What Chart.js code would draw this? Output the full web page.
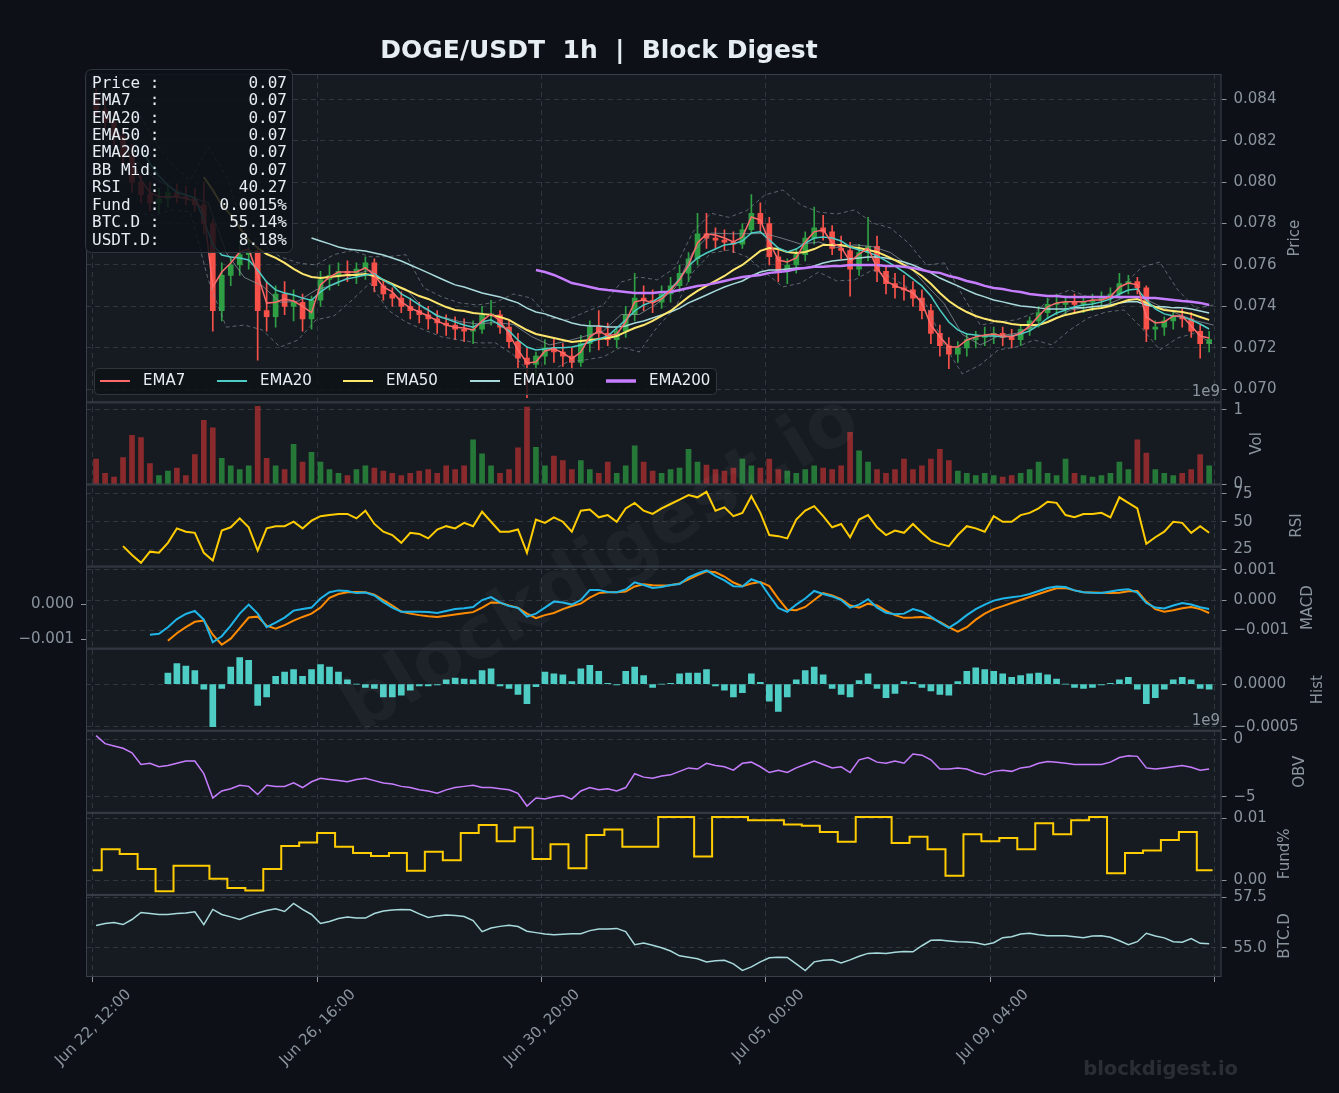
<!DOCTYPE html>
<html>
<head>
<meta charset="utf-8">
<title>DOGE/USDT 1h | Block Digest</title>
<script src="https://cdn.jsdelivr.net/npm/chart.js@4.4.1/dist/chart.umd.min.js"></script>
<style>
  html, body { margin: 0; padding: 0; background: #0d1117; }
</style>
</head>
<body>
<canvas id="chart" width="1339" height="1093"></canvas>
<script>
// ---- data (x = hours since Jun 22 12:00, one candle per 4 hours) ----
const candleOpen = [.0840,.0835,.0829,.0822,.0812,.0800,.0794,.0790,.0792,.0795, .0793,.0792,.0789,.0780,.0738,.0755,.0760,.0765,.0767,.0738,
  .0735,.0746,.0740,.0742,.0734,.0743,.0753,.0755,.0757,.0756, .0758,.0761,.0750,.0746,.0744,.0740,.0738,.0736,.0734,.0732,
  .0731,.0729,.0728,.0729,.0736,.0736,.0730,.0723,.0715,.0712, .0716,.0720,.0718,.0716,.0713,.0722,.0730,.0727,.0724,.0728,
  .0736,.0744,.0743,.0742,.0746,.0750,.0756,.0763,.0775,.0773, .0772,.0771,.0770,.0777,.0785,.0780,.0764,.0757,.0760,.0765,
  .0773,.0778,.0776,.0768,.0767,.0758,.0766,.0769,.0757,.0751, .0749,.0748,.0744,.0738,.0727,.0721,.0717,.0720,.0724,.0725,
  .0726,.0727,.0725,.0724,.0729,.0733,.0737,.0741,.0741,.0742, .0741,.0742,.0743,.0744,.0746,.0751,.0752,.0749,.0729,.0730,
  .0733,.0735,.0734,.0728,.0722];
const candleHigh = [.0845,.0840,.0834,.0826,.0818,.0803,.0800,.0797,.0798,.0799, .0798,.0797,.0800,.0782,.0761,.0764,.0770,.0772,.0769,.0752,
  .0750,.0752,.0748,.0746,.0745,.0757,.0760,.0761,.0762,.0761, .0764,.0763,.0753,.0749,.0747,.0744,.0742,.0740,.0738,.0736,
  .0735,.0734,.0733,.0740,.0743,.0738,.0733,.0727,.0720,.0718, .0724,.0725,.0722,.0720,.0726,.0733,.0738,.0732,.0730,.0740,
  .0756,.0750,.0748,.0750,.0754,.0760,.0766,.0785,.0785,.0778, .0777,.0776,.0780,.0794,.0790,.0783,.0768,.0763,.0768,.0776,
  .0788,.0784,.0779,.0774,.0771,.0770,.0783,.0774,.0760,.0756, .0755,.0752,.0748,.0741,.0731,.0725,.0723,.0727,.0728,.0730,
  .0730,.0730,.0729,.0731,.0735,.0740,.0744,.0746,.0745,.0746, .0745,.0746,.0747,.0749,.0756,.0755,.0754,.0750,.0733,.0735,
  .0738,.0739,.0737,.0731,.0728];
const candleLow = [.0832,.0826,.0818,.0808,.0795,.0790,.0786,.0785,.0788,.0790, .0789,.0786,.0775,.0728,.0733,.0750,.0755,.0758,.0714,.0728,
  .0730,.0736,.0733,.0728,.0729,.0740,.0748,.0750,.0752,.0751, .0753,.0747,.0743,.0740,.0737,.0734,.0732,.0729,.0727,.0726,
  .0724,.0723,.0722,.0727,.0731,.0727,.0720,.0710,.0696,.0707, .0712,.0713,.0711,.0709,.0711,.0718,.0719,.0721,.0720,.0725,
  .0733,.0738,.0737,.0739,.0742,.0747,.0752,.0760,.0768,.0768, .0767,.0766,.0768,.0775,.0776,.0760,.0752,.0751,.0756,.0762,
  .0770,.0772,.0765,.0763,.0745,.0755,.0762,.0752,.0746,.0744, .0743,.0740,.0734,.0722,.0716,.0710,.0713,.0716,.0720,.0721,
  .0722,.0721,.0720,.0721,.0726,.0730,.0734,.0736,.0736,.0737, .0737,.0738,.0739,.0740,.0744,.0746,.0746,.0723,.0724,.0726,
  .0729,.0730,.0725,.0715,.0718];
const candleClose = [.0835,.0829,.0822,.0812,.0800,.0794,.0790,.0792,.0795,.0793, .0792,.0789,.0780,.0738,.0755,.0760,.0765,.0767,.0738,.0735,
  .0746,.0740,.0742,.0734,.0743,.0753,.0755,.0757,.0756,.0758, .0761,.0750,.0746,.0744,.0740,.0738,.0736,.0734,.0732,.0731,
  .0729,.0728,.0729,.0736,.0736,.0730,.0723,.0715,.0712,.0716, .0720,.0718,.0716,.0713,.0722,.0730,.0727,.0724,.0728,.0736,
  .0744,.0743,.0742,.0746,.0750,.0756,.0763,.0775,.0773,.0772, .0771,.0770,.0777,.0785,.0780,.0764,.0757,.0760,.0765,.0773,
  .0778,.0776,.0768,.0767,.0758,.0766,.0769,.0757,.0751,.0749, .0748,.0744,.0738,.0727,.0721,.0717,.0720,.0724,.0725,.0726,
  .0727,.0725,.0724,.0729,.0733,.0737,.0741,.0741,.0742,.0741, .0742,.0743,.0744,.0746,.0751,.0752,.0749,.0729,.0730,.0733,
  .0735,.0734,.0728,.0722,.0724];

const ema7 = [null,.0833,.0827,.0820,.0810,.0801,.0795,.0793,.0793,.0793, .0792,.0791,.0786,.07494,.07566,.0761,.07663,.07677,.07552,.07416,
  .0742,.07436,.07426,.0740,.0737,.07504,.07542,.07566,.07566,.07566, .07586,.07552,.07494,.0747,.07422,.07393,.07373,.07354,.0733,.0731,
  .0730,.07296,.07286,.0733,.07364,.0733,.07267,.0719,.07127,.07132, .07185,.07195,.07176,.07147,.0718,.07253,.07282,.07257,.07267,.07325,
  .07422,.07431,.07417,.07436,.07479,.07528,.0760,.07706,.0775,.07745, .0773,.07711,.07735,.07832,.07817,.07711,.07624,.07615,.07634,.07711,
  .0776,.0777,.07706,.07687,.07615,.07653,.07682,.07586,.07523,.07499, .07484,.07465,.07417,.0731,.07253,.07204,.07204,.07238,.07253,.07262,
  .07267,.07257,.07253,.07272,.07305,.07354,.07398,.07417,.07422,.07422, .07422,.07431,.07431,.07446,.07494,.07513,.07504,.07349,.0732,.07325,
  .07354,.07354,.07305,.07257,.07248];
const ema20 = [null,null,null,null,null,
  .08165,.0809,.0803,.07986,.0795,.07938,.07924,.07817,.07697,.07648, .07639,.07634,.07624,.07576,.07518,.0748,.07465,.07455,.0744,.0743,
  .0747,.07499,.07518,.07533,.07542,.07552,.07557,.07528,.07504,.0746, .07436,.07407,.07383,.07354,.0734,.07325,.0731,.0730,.07325,.07335,
  .0731,.07282,.07238,.07204,.0719,.07195,.0720,.0720,.07204,.07214, .07228,.07243,.07257,.07296,.07335,.07378,.07407,.07423,.0745,.07484,
  .07533,.07595,.07634,.07658,.07677,.07697,.07702,.07716,.07755,.0776, .07721,.07682,.07663,.07677,.07706,.0773,.07735,.0773,.07716,.07687,
  .07672,.07663,.07644,.0762,.07595,.07566,.07533,.07499,.0745,.07383, .07325,.07287,.07267,.07262,.07257,.07257,.07253,.07257,.07267,.07282,
  .0731,.07344,.07368,.07383,.07398,.07407,.07412,.07422,.07436,.0746, .07479,.07484,.0743,.07388,.07364,.07354,.0735,.07335,.07315,.07291];
const ema50 = [null,null,null,null,null,null,null,null,null,null,null,null,
  .08025,.07962,.0789,.07842,.07779,.07721,.07682,.07653,.07634,.0761, .07581,.07557,.07542,.07537,.07542,.07547,.07552,.07552,.07557,.07547,
  .07528,.07509,.07489,.0747,.0745,.07436,.07416,.07397,.07383,.07378, .07368,.07364,.07359,.07349,.07335,.0731,.07286,.07267,.07257,.07248,
  .07238,.07228,.07233,.07238,.07243,.07248,.07257,.07277,.07296,.0731, .0733,.07354,.07378,.07412,.07446,.07475,.07499,.07523,.07547,.07576,
  .0760,.07634,.07668,.07682,.07677,.07663,.07658,.07663,.07677,.07697, .07697,.07697,.07687,.07682,.07672,.07663,.07644,.07624,.0760,.07576,
  .07547,.07509,.07465,.07426,.07397,.07373,.07354,.0734,.0733,.07325, .07315,.0731,.0731,.0731,.07325,.07344,.07359,.07368,.07378,.07388,
  .07392,.07402,.07417,.07431,.07436,.07417,.07397,.07383,.07378,.07373, .07364,.07349,.07335];
const ema100 = [null,null,null,null,null,null,null,null,null,null,null,null,null,null,null,null,null,null,null,null,null,null,null,null,
  .0773,.07716,.07702,.07687,.07677,.07672,.07668,.07658,.07648,.07634, .07619,.0760,.07581,.07562,.07542,.07523,.07504,.07494,.07479,.07465,
  .07455,.07446,.07431,.07417,.07392,.07373,.07364,.07349,.07335,.0732, .0731,.07306,.07306,.07301,.07301,.07306,.0732,.0733,.07344,.07359,
  .07373,.07392,.07417,.07436,.07455,.07475,.07494,.07509,.07523,.07547, .07566,.07576,.07576,.07581,.07586,.07586,.07595,.0761,.07619,.07624,
  .07629,.07634,.07639,.07639,.07634,.07624,.07614,.0760,.07581,.07562, .07537,.07518,.07499,.07479,.0746,.07446,.07431,.07422,.07412,.07402,
  .07398,.07393,.07388,.07388,.07388,.07393,.07393,.07398,.07402,.07407, .07417,.07422,.07422,.07407,.07398,.07398,.07393,.07393,.07388,.07378,
  .07368];
const ema200 = [null,null,null,null,null,null,null,null,null,null,null,null,null,null,null,null,null,null,null,null,null,null,null,null,null,
  null,null,null,null,null,null,null,null,null,null,null,null,null,null,null,null,null,null,null,null,null,null,null,null,
  .07576,.07566,.07552,.07533,.07513,.07504,.07494,.07484,.07479,.07475, .0747,.07465,.07465,.07465,.0747,.0747,.07479,.07489,.07499,.07504,
  .07513,.07523,.07533,.07542,.07547,.07552,.07562,.07566,.07571,.07581, .07586,.07591,.07591,.07595,.07595,.0760,.0760,.0760,.0760,.07595,
  .07595,.07591,.07586,.07576,.07566,.07562,.07547,.07537,.07523,.07513, .07499,.07489,.07484,.07475,.0747,.0746,.07455,.0745,.0745,.07446,
  .07446,.07446,.07446,.07446,.07446,.07446,.07446,.07446,.07441,.07441, .07436,.07431,.07426,.07422,.07417,.07407];

// Bollinger bands, one value per 8 hours
const bbUpper = [null,null,.0835,.0820,.0808,.0801,.0817,.0803,.0777,.0770, .0764,.0761,.0760,.0765,.0767,.0764,.0764,.0765,.0749,.07446,
  .07417,.07407,.0742,.0746,.0744,.07344,.07335,.07373,.07407,.07518, .07542,.07528,.07586,.0776,.0785,.0783,.07863,.07938,.07962,.0789,
  .07856,.07846,.07866,.07803,.07779,.07706,.0760,.0761,.07455,.0731, .07325,.07335,.07368,.07446,.0748,.07446,.0744,.07504,.0759,.07614,
  .0748,.0739,.07407];
const bbLower = [null,null,.0785,.0784,.07866,.07856,.07528,.0730,.0731,.07287, .07204,.07238,.07335,.07354,.0743,.07513,.07383,.07325,.07287,.07253,
  .07238,.07224,.07224,.07166,.0707,.07084,.07132,.07142,.07156,.07204, .0718,.0730,.07392,.07566,.07658,.07672,.0764,.07566,.07494,.07513,
  .07566,.07523,.07528,.07576,.07542,.07489,.07407,.07214,.07074,.07118, .0719,.07204,.07238,.07214,.07287,.07344,.07373,.07383,.07296,.0719,
  .07248,.07272,.07214];
const bbMid = [null,null,.0810,.0802,.0797,.0793,.0790,.0766,.0754,.0750, .0742,.07425,.0748,.07505,.0755,.07575,.0751,.07485,.0739,.0735,
  .07327,.07315,.07322,.07313,.07255,.07214,.07233,.07257,.07281,.07361, .07361,.07414,.07489,.07663,.07754,.07751,.07751,.07752,.07728,.07701,
  .07711,.07684,.07697,.07689,.0766,.07598,.07503,.07412,.07265,.07214, .07257,.0727,.07303,.0733,.07383,.07395,.07407,.07443,.07443,.07402,
  .07364,.07331,.0731];

// volume in billions (axis offset 1e9)
const volume = [0.34,0.15,0.10,0.36,0.66,0.63,0.28,0.12,0.18,0.22, 0.12,0.40,0.86,0.76,0.35,0.25,0.20,0.25,1.05,0.35,
  0.25,0.20,0.54,0.30,0.43,0.30,0.20,0.15,0.12,0.20, 0.25,0.22,0.18,0.15,0.12,0.15,0.18,0.20,0.15,0.25,
  0.20,0.25,0.60,0.41,0.25,0.15,0.20,0.49,1.04,0.50, 0.25,0.38,0.32,0.20,0.32,0.20,0.15,0.30,0.15,0.25,
  0.52,0.30,0.18,0.15,0.20,0.22,0.47,0.30,0.26,0.20, 0.18,0.22,0.34,0.25,0.22,0.34,0.20,0.18,0.15,0.20,
  0.25,0.22,0.20,0.25,0.70,0.45,0.30,0.20,0.15,0.20, 0.34,0.20,0.25,0.34,0.47,0.32,0.18,0.15,0.12,0.15,
  0.12,0.10,0.12,0.15,0.20,0.30,0.15,0.12,0.34,0.15, 0.12,0.10,0.12,0.15,0.30,0.20,0.60,0.42,0.20,0.15,
  0.12,0.15,0.20,0.40,0.25];

const rsi = [null,null,null,28,20,13,23,22,31,44, 41,40,22,15,42,45,53,45,24,44, 46,46,50,44,51,55,56,57,57,53,
  60,48,41,38,31,40,39,35,43,46, 44,49,46,59,50,41,41,43,22,52, 49,54,50,41,60,61,54,56,50,62,
  67,60,57,62,66,70,74,72,77,60, 63,55,58,73,58,38,37,35,52,60, 64,55,45,48,36,52,56,45,38,42,
  40,48,40,33,30,28,38,46,44,41, 55,50,50,56,58,62,68,67,56,54, 57,57,58,54,72,67,62,30,36,41,
  50,49,40,46,40];

const macd = [null,null,null,null,null,null,-0.00115,-0.00112,-0.0009,-0.00063,
  -0.00046,-0.00036,-0.00065,-0.0014,-0.0012,-0.00085,-0.00045,-0.00015,-0.00045,-0.0009,
  -0.00075,-0.00058,-0.00035,-0.0003,-0.00025,0.00005,0.00026,0.00032,0.0003,0.00023,
  0.00025,0.00015,-0.00007,-0.00025,-0.00039,-0.00039,-0.00039,-0.0004,-0.00043,-0.00036,
  -0.0003,-0.00027,-0.00023,0,0.0001,-0.00008,-0.0002,-0.00026,-0.00055,-0.00045,
  -0.00025,-0.00005,-0.00008,-0.00015,0,0.00033,0.00033,0.00027,0.00026,0.00035,
  0.00059,0.0005,0.0004,0.00043,0.0005,0.00053,0.00075,0.00088,0.00098,0.0008,
  0.00065,0.00046,0.00045,0.00069,0.00058,0.00015,-0.00026,-0.00039,-0.00015,0.00005,
  0.0003,0.0002,0.00012,0,-0.00025,-0.00015,0.00003,-0.00025,-0.00042,-0.00047,
  -0.00045,-0.0003,-0.00038,-0.00055,-0.00075,-0.00092,-0.00073,-0.0005,-0.0003,-0.00015,
  -0.00002,0.00005,0.00009,0.00013,0.0002,0.0003,0.0004,0.00045,0.00043,0.00032,
  0.00026,0.00024,0.00023,0.00028,0.00033,0.00036,0.00025,-0.0001,-0.00025,-0.00028,
  -0.00018,-0.0001,-0.00015,-0.00024,-0.0003];
const macdSignal = [null,null,null,null,null,null,null,null,
  -0.00135,-0.0011,-0.0009,-0.00072,-0.00068,-0.00115,-0.00148,-0.00128,-0.00093,-0.00058,
  -0.00055,-0.00085,-0.00095,-0.00083,-0.00068,-0.00056,-0.00045,-0.00025,0.00007,0.0002,
  0.00026,0.00027,0.00026,0.00018,0,-0.00018,-0.00038,-0.00045,-0.0005,-0.00054,
  -0.00056,-0.00052,-0.00048,-0.00044,-0.0004,-0.00025,-0.00008,-0.00009,-0.00018,-0.00026,
  -0.00045,-0.0006,-0.0005,-0.00043,-0.0003,-0.0002,-0.00012,0.00008,0.00023,0.00026,
  0.00026,0.00028,0.00045,0.00052,0.00049,0.00048,0.00049,0.00055,0.00069,0.00083,
  0.00095,0.00092,0.00078,0.00058,0.00046,0.00055,0.0006,0.00046,0.00005,-0.00032,
  -0.00034,-0.00023,0,0.00023,0.00015,0.00003,-0.00018,-0.00025,-0.00012,-0.00018,
  -0.00036,-0.0005,-0.00059,-0.00058,-0.00056,-0.0006,-0.00072,-0.0009,-0.00105,-0.0009,
  -0.00065,-0.00045,-0.0003,-0.0002,-0.0001,0,0.0001,0.0002,0.0003,0.00039,
  0.0004,0.00032,0.00026,0.00025,0.00024,0.00023,0.00024,0.00029,0.0003,-0.00005,
  -0.0003,-0.00039,-0.00034,-0.00027,-0.00023,-0.0003,-0.00043];
const macdHist = [null,null,null,null,null,null,null,null,
  0.00013,0.00024,0.00021,0.00016,-0.00006,-0.0005,-0.00005,0.0002,0.00031,0.00028,
  -0.00025,-0.00015,0.00009,0.00014,0.00017,0.00009,0.00017,0.00023,0.0002,0.00014,
  0.00005,0,-0.00004,-0.00005,-0.00015,-0.00015,-0.00013,-0.00007,-0.00002,-0.00002,
  -0.00001,0.00005,0.00007,0.00006,0.00005,0.00016,0.00018,-0.00002,-0.00005,-0.00012,
  -0.00023,-0.00003,0.00014,0.00012,0.00011,0.00003,0.00018,0.00022,0.00015,0.00001,
  -0.00001,0.00015,0.0002,0.0001,-0.00004,0,0.00001,0.00012,0.00013,0.00013,
  0.00017,-0.00002,-0.00007,-0.00015,-0.0001,0.00012,0.00002,-0.0002,-0.00032,-0.00015,
  0.00005,0.00016,0.0002,0.00011,-0.00005,-0.00012,-0.00015,0.00004,0.00012,-0.00005,
  -0.00016,-0.00011,0.00003,0.00002,-0.00004,-0.00008,-0.00012,-0.00013,0.00003,0.00015,
  0.00019,0.00017,0.00015,0.00012,0.00008,0.0001,0.00012,0.00013,0.00011,0.00006,
  0,-0.00004,-0.00005,-0.00004,-0.00001,0.00001,0.00005,0.00008,-0.00006,-0.00023,
  -0.00016,-0.00006,0.00005,0.00008,0.00005,-0.00005,-0.00006];

// OBV in billions (axis offset 1e9)
const obv = [0.3,-0.4,-0.6,-0.8,-1.2,-2.2,-2.1,-2.4,-2.3,-2.1, -1.9,-1.9,-3,-5.1,-4.5,-4.3,-4,-4.1,-4.8,-4,
  -4.1,-4.1,-3.8,-4.2,-3.7,-3.4,-3.5,-3.6,-3.7,-3.5, -3.4,-3.6,-3.8,-3.9,-4.1,-4.2,-4.4,-4.5,-4.7,-4.4,
  -4.2,-4.1,-4,-4.2,-4.2,-4.3,-4.4,-4.7,-5.8,-5.1, -5.2,-5,-4.9,-5.2,-4.5,-4.2,-4.4,-4.3,-4.5,-4.2,
  -3,-3.3,-3.4,-3.2,-3.1,-2.8,-2.5,-2.6,-2.1,-2.3, -2.4,-2.7,-2.1,-2,-2.4,-2.9,-2.7,-2.9,-2.5,-2.2,
  -1.9,-2.2,-2.5,-2.4,-2.9,-1.8,-1.6,-2,-2.1,-1.9, -2.1,-1.3,-1.4,-1.8,-2.6,-2.6,-2.5,-2.6,-2.9,-3.1,
  -2.8,-2.7,-2.8,-2.5,-2.4,-2.1,-1.95,-2,-2.1,-2.2, -2.2,-2.2,-2.2,-2,-1.6,-1.45,-1.5,-2.5,-2.6,-2.5,
  -2.4,-2.3,-2.45,-2.7,-2.6];

// funding rate (%), first value from hour 0, then one value per 8h period starting at hour 4
const funding = [0.0016,0.005,0.0042,0.0018,-0.0018,0.0023,0.0023,0.0002,-0.0013,-0.0017,0.0018,0.0055,0.0061,0.0076,0.0054,
  0.0044,0.0039,0.0044,0.0015,0.0046,0.0032,0.0076,0.0089,0.0063,0.0085,0.0034,0.0058,0.0019,0.0073,0.0082,0.0054,
  0.0054,0.0102,0.0102,0.0038,0.0102,0.0102,0.0097,0.0097,0.009,0.0088,0.0078,0.0062,0.0102,0.0102,0.006,0.007,
  0.005,0.0007,0.0074,0.0063,0.0068,0.005,0.0092,0.0074,0.0097,0.0102,0.0011,0.0044,0.0048,0.0065,0.0078,0.0016];

const btcDom = [56.1,56.2,56.25,56.15,56.4,56.75,56.7,56.65,56.65,56.7, 56.72,56.78,56.15,56.9,56.65,56.53,56.4,56.58,56.72,56.85,
  56.93,56.8,57.2,56.9,56.65,56.2,56.3,56.45,56.53,56.48, 56.47,56.7,56.82,56.87,56.9,56.88,56.68,56.5,56.58,56.62,
  56.6,56.55,56.35,55.8,55.98,56.06,56.12,56.05,55.82,55.75, 55.68,55.64,55.67,55.69,55.7,55.85,55.93,55.93,55.96,55.8,
  55.15,55.23,55.12,55,54.84,54.6,54.53,54.45,54.3,54.35, 54.38,54.2,53.88,54.05,54.3,54.5,54.53,54.52,54.2,53.87,
  54.3,54.38,54.4,54.25,54.4,54.58,54.72,54.74,54.71,54.78, 54.82,54.8,55.1,55.37,55.38,55.34,55.3,55.28,55.25,55.15,
  55.25,55.5,55.55,55.68,55.72,55.64,55.6,55.6,55.6,55.55, 55.5,55.58,55.6,55.52,55.35,55.15,55.3,55.72,55.58,55.49,
  55.3,55.27,55.45,55.22,55.2];

// ---- ticks and labels ----
const xTickHours = [0, 100, 200, 300, 400, 500];
const xTickLabels = ['Jun 22, 12:00', 'Jun 26, 16:00', 'Jun 30, 20:00', 'Jul 05, 00:00', 'Jul 09, 04:00', ''];
const priceTicks = [0.070, 0.072, 0.074, 0.076, 0.078, 0.080, 0.082, 0.084];
const priceTickLabels = ['0.070', '0.072', '0.074', '0.076', '0.078', '0.080', '0.082', '0.084'];
const volTicks = [0, 1];
const volTickLabels = ['0', '1'];
const rsiTicks = [25, 50, 75];
const rsiTickLabels = ['25', '50', '75'];
const macdTicks = [-0.001, 0, 0.001];
const macdTickLabels = ['\u22120.001', '0.000', '0.001'];
const macdLeftTicks = [-0.001, 0];
const macdLeftTickLabels = ['\u22120.001', '0.000'];
const histTicks = [-0.0005, 0];
const histTickLabels = ['\u22120.0005', '0.0000'];
const obvTicks = [-5, 0];
const obvTickLabels = ['\u22125', '0'];
const fundTicks = [0, 0.01];
const fundTickLabels = ['0.00', '0.01'];
const btcTicks = [55, 57.5];
const btcTickLabels = ['55.0', '57.5'];

const infoLabels = ['Price :', 'EMA7  :', 'EMA20 :', 'EMA50 :', 'EMA200:', 'BB Mid:', 'RSI   :', 'Fund  :', 'BTC.D :', 'USDT.D:'];
const infoValues = ['0.07', '0.07', '0.07', '0.07', '0.07', '0.07', '40.27', '0.0015%', '55.14%', '8.18%'];
const legendNames = ['EMA7', 'EMA20', 'EMA50', 'EMA100', 'EMA200'];

// ---- theme ----
const BG = '#0d1117';
const PANEL = '#161b22';
const GRID = '#30363d';
const SPINE = '#3a4049';
const TEXT = '#8b949e';
const BRIGHT = '#e6edf3';
const FONT = 'DejaVu Sans';
const MONO = 'DejaVu Sans Mono';
const UP = '#2ea043';
const DOWN = '#f85149';
const EMA_COLORS = ['#ff6b6b', '#4ecdc4', '#ffe66d', '#a8dadc', '#c77dff'];

const barHour = i => 4 * i + 1.5;
const bandHour = j => 8 * j + 3.5;
const fundHour = k => (k === 0 ? 0 : 8 * k - 4);
const series = (arr, xf) => arr.map((v, i) => ({ x: xf(i), y: v }));

const isUp = candleClose.map((c, i) => c >= candleOpen[i]);
const candleColors = isUp.map(u => (u ? UP : DOWN));
const volColors = isUp.map(u => (u ? 'rgba(46,160,67,0.7)' : 'rgba(218,54,51,0.6)'));
const fundPoints = series(funding, fundHour).concat([{ x: 499, y: funding[funding.length - 1] }]);

function line(data, yAxisID, color, width, extra) {
  return Object.assign({
    type: 'line', data, yAxisID, borderColor: color, borderWidth: width,
    pointRadius: 0, fill: false, tension: 0, order: 5
  }, extra || {});
}

function rightAxis(weight, min, max, ticks, labels) {
  return {
    type: 'linear', position: 'right', stack: 'panels', stackWeight: weight,
    min, max, beginAtZero: false,
    afterFit: s => { s.width = 117.5; },
    afterBuildTicks: s => { s.ticks = ticks.map(v => ({ value: v })); },
    ticks: {
      autoSkip: false, color: TEXT, padding: 7,
      font: { family: FONT, size: 15 },
      callback: (v, i) => labels[i]
    },
    grid: { color: GRID, lineWidth: 1, tickLength: 5, tickColor: TEXT, tickWidth: 1 },
    border: { display: false, dash: [5, 4] }
  };
}

function roundRect(ctx, x, y, w, h, r) {
  ctx.beginPath();
  ctx.moveTo(x + r, y);
  ctx.arcTo(x + w, y, x + w, y + h, r);
  ctx.arcTo(x + w, y + h, x, y + h, r);
  ctx.arcTo(x, y + h, x, y, r);
  ctx.arcTo(x, y, x + w, y, r);
  ctx.closePath();
}

const panelTitles = [
  ['yP', 'Price', 1295], ['yV', 'Vol', 1257], ['yR', 'RSI', 1297], ['yM', 'MACD', 1308],
  ['yH', 'Hist', 1318], ['yO', 'OBV', 1300], ['yF', 'Fund%', 1285], ['yB', 'BTC.D', 1285]
];

const decor = {
  id: 'decor',
  beforeDraw(chart) {
    const { ctx, chartArea: a } = chart;
    ctx.save();
    ctx.fillStyle = BG;
    ctx.fillRect(0, 0, chart.width, chart.height);
    ctx.fillStyle = PANEL;
    ctx.fillRect(a.left, a.top, a.right - a.left, a.bottom - a.top);
    ctx.restore();
  },
  afterDatasetsDraw(chart) {
    const { ctx } = chart;
    ctx.save();
    ctx.translate(602, 566);
    ctx.rotate(-31 * Math.PI / 180);
    ctx.font = `bold 74px "${FONT}"`;
    ctx.fillStyle = 'rgba(255,255,255,0.035)';
    ctx.textAlign = 'center';
    ctx.textBaseline = 'middle';
    ctx.fillText('blockdigest.io', 0, 0);
    ctx.restore();
  },
  afterDraw(chart) {
    const { ctx, chartArea: a } = chart;
    ctx.save();

    // panel frames and side labels
    ctx.strokeStyle = SPINE;
    ctx.lineWidth = 1;
    ctx.font = `15px "${FONT}"`;
    ctx.textAlign = 'center';
    ctx.textBaseline = 'middle';
    for (const [id, label, x] of panelTitles) {
      const s = chart.scales[id];
      ctx.strokeRect(a.left + 0.5, s.top + 0.5, a.right - a.left - 1, s.bottom - s.top - 1);
      ctx.save();
      ctx.translate(x, (s.top + s.bottom) / 2);
      ctx.rotate(-Math.PI / 2);
      ctx.fillStyle = TEXT;
      ctx.fillText(label, 0, 0);
      ctx.restore();
    }

    // offset texts
    ctx.fillStyle = TEXT;
    ctx.textAlign = 'right';
    ctx.fillText('1e9', 1220, chart.scales.yV.top - 10);
    ctx.fillText('1e9', 1220, chart.scales.yO.top - 10);

    // title
    ctx.font = `bold 25px "${FONT}"`;
    ctx.fillStyle = BRIGHT;
    ctx.textAlign = 'center';
    ctx.fillText('DOGE/USDT  1h  |  Block Digest', 599, 51);

    // info box
    roundRect(ctx, 85.5, 69.5, 207, 183, 6);
    ctx.fillStyle = 'rgba(13,17,23,0.85)';
    ctx.fill();
    ctx.strokeStyle = GRID;
    ctx.stroke();
    ctx.font = `16px "${MONO}"`;
    ctx.fillStyle = BRIGHT;
    infoLabels.forEach((lab, k) => {
      const y = 83.5 + 17.45 * k;
      ctx.textAlign = 'left';
      ctx.fillText(lab, 92, y);
      ctx.textAlign = 'right';
      ctx.fillText(infoValues[k], 287, y);
    });

    // legend
    roundRect(ctx, 94.5, 368.5, 622, 26, 4);
    ctx.fillStyle = 'rgba(13,17,23,0.8)';
    ctx.fill();
    ctx.strokeStyle = GRID;
    ctx.stroke();
    const swatchX = [100, 217, 343, 470, 606];
    const swatchW = [2, 2, 2, 2, 3.5];
    ctx.font = `15px "${FONT}"`;
    ctx.textAlign = 'left';
    legendNames.forEach((name, k) => {
      ctx.strokeStyle = EMA_COLORS[k];
      ctx.lineWidth = swatchW[k];
      ctx.beginPath();
      ctx.moveTo(swatchX[k], 381);
      ctx.lineTo(swatchX[k] + 30, 381);
      ctx.stroke();
      ctx.fillStyle = BRIGHT;
      ctx.fillText(name, swatchX[k] + 43, 381);
    });

    // footer mark
    ctx.font = `bold 19.5px "${FONT}"`;
    ctx.fillStyle = 'rgba(255,255,255,0.12)';
    ctx.textAlign = 'right';
    ctx.fillText('blockdigest.io', 1238, 1070);
    ctx.restore();
  }
};

new Chart(document.getElementById('chart'), {
  type: 'line',
  data: {
    datasets: [
      { type: 'bar', yAxisID: 'yP', order: 30, grouped: false, barThickness: 1,
        data: candleHigh.map((h, i) => ({ x: barHour(i), y: [candleLow[i], h] })),
        backgroundColor: candleColors },
      { type: 'bar', yAxisID: 'yP', order: 29, grouped: false, barThickness: 5, minBarLength: 1,
        data: candleOpen.map((o, i) => ({ x: barHour(i), y: [o, candleClose[i]] })),
        backgroundColor: candleColors },
      line(series(bbUpper, bandHour), 'yP', 'rgba(139,148,158,0.6)', 1, { borderDash: [4, 3], order: 20 }),
      line(series(bbLower, bandHour), 'yP', 'rgba(139,148,158,0.6)', 1, { borderDash: [4, 3], order: 20 }),
      line(series(bbMid, bandHour), 'yP', 'rgba(139,148,158,0.75)', 1, { order: 19 }),
      line(series(ema100, barHour), 'yP', EMA_COLORS[3], 1.5, { order: 9 }),
      line(series(ema50, barHour), 'yP', EMA_COLORS[2], 2, { order: 8 }),
      line(series(ema20, barHour), 'yP', EMA_COLORS[1], 1.5, { order: 7 }),
      line(series(ema200, barHour), 'yP', EMA_COLORS[4], 2.5, { order: 6 }),
      line(series(ema7, barHour), 'yP', EMA_COLORS[0], 1.5, { order: 5 }),
      { type: 'bar', yAxisID: 'yV', grouped: false, barThickness: 5,
        data: series(volume, barHour), backgroundColor: volColors },
      line(series(rsi, barHour), 'yR', '#ffcc00', 2),
      line(series(macd, barHour), 'yM', '#1fb5e8', 2),
      line(series(macdSignal, barHour), 'yM', '#ff8c00', 2),
      { type: 'bar', yAxisID: 'yH', grouped: false, barThickness: 6,
        data: series(macdHist, barHour), backgroundColor: '#4ecdc4' },
      line(series(obv, barHour), 'yO', '#c77dff', 1.5),
      line(fundPoints, 'yF', '#ffcc00', 2, { stepped: 'before' }),
      line(series(btcDom, barHour), 'yB', '#a8dadc', 1.5)
    ]
  },
  options: {
    responsive: false,
    animation: false,
    events: [],
    layout: { padding: { top: 74, left: 0, right: 0, bottom: 0 } },
    plugins: { legend: { display: false }, tooltip: { enabled: false }, title: { display: false } },
    scales: {
      x: {
        type: 'linear', min: -3, max: 503, offset: false,
        afterFit: s => { s.height = 116; },
        afterBuildTicks: s => { s.ticks = xTickHours.map(v => ({ value: v })); },
        ticks: {
          autoSkip: false, minRotation: 45, maxRotation: 45, labelOffset: 36, padding: 4,
          color: TEXT, font: { family: FONT, size: 15 },
          callback: (v, i) => xTickLabels[i]
        },
        grid: { offset: false, color: GRID, tickLength: 5, tickColor: TEXT },
        border: { display: false, dash: [5, 4] }
      },
      yP: rightAxis(4, 0.069368, 0.085221, priceTicks, priceTickLabels),
      yV: rightAxis(1, 0, 1.102, volTicks, volTickLabels),
      yR: rightAxis(1, 9.6, 83.6, rsiTicks, rsiTickLabels),
      yM: rightAxis(1, -0.00161, 0.00111, macdTicks, macdTickLabels),
      yH: rightAxis(1, -0.000547, 0.000416, histTicks, histTickLabels),
      yO: rightAxis(1, -6.39, 0.72, obvTicks, obvTickLabels),
      yF: rightAxis(1, -0.00241, 0.01089, fundTicks, fundTickLabels),
      yB: rightAxis(1, 53.55, 57.62, btcTicks, btcTickLabels),
      yML: {
        type: 'linear', position: 'left', min: -0.010657, max: 0.015143,
        afterFit: s => { s.width = 86; },
        afterBuildTicks: s => { s.ticks = macdLeftTicks.map(v => ({ value: v })); },
        ticks: {
          autoSkip: false, color: TEXT, padding: 7, font: { family: FONT, size: 15 },
          callback: (v, i) => macdLeftTickLabels[i]
        },
        grid: { drawOnChartArea: false, tickLength: 5, tickColor: TEXT },
        border: { display: false }
      }
    }
  },
  plugins: [decor]
});
</script>
</body>
</html>
